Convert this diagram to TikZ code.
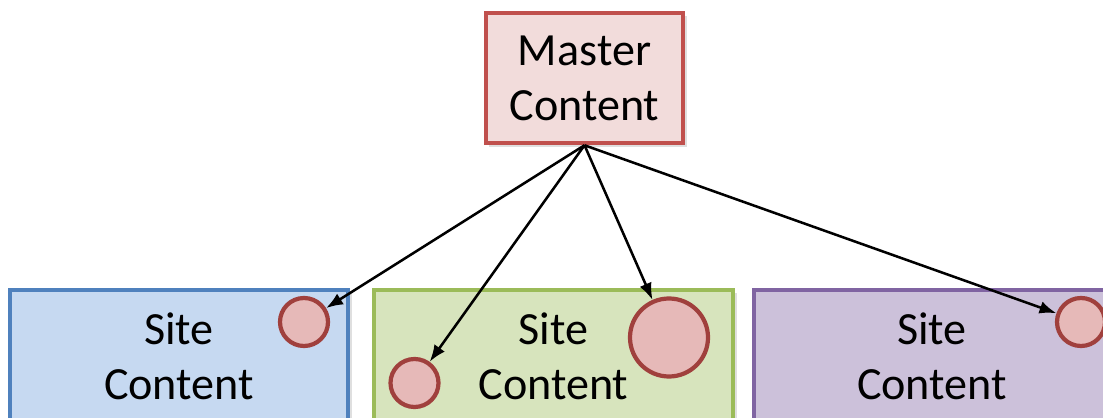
\documentclass[tikz,border=0pt]{standalone}
\usepackage{fontspec}
\setmainfont{Carlito}
\usetikzlibrary{arrows.meta,shadows}

\definecolor{masterline}{HTML}{C0504D}
\definecolor{masterfill}{HTML}{F2DCDB}
\definecolor{blueline}{HTML}{4F81BD}
\definecolor{bluefill}{HTML}{C6D9F1}
\definecolor{greenline}{HTML}{9BBB59}
\definecolor{greenfill}{HTML}{D7E4BD}
\definecolor{purpleline}{HTML}{8064A2}
\definecolor{purplefill}{HTML}{CCC1DA}
\definecolor{dotline}{HTML}{A0403D}
\definecolor{dotfill}{HTML}{E6B9B8}

\tikzset{
  content/.style={rectangle, line width=3.2pt, align=center,
    font=\fontsize{32.8}{39}\selectfont,
    drop shadow={opacity=0.25, shadow xshift=2.5pt, shadow yshift=-2.5pt}},
  site/.style={content, minimum height=3.3cm},
  dot/.style={circle, draw=dotline, fill=dotfill, line width=3pt, inner sep=0pt},
  link/.style={-{Latex[length=12pt,width=9pt]}, line width=1.8pt}
}

\begin{document}
\begin{tikzpicture}[x=0.025cm, y=-0.025cm]

    \clip (0,0) rectangle (1103,418);

    % Define nodes

    \node[content, draw=masterline, fill=masterfill,
          minimum width=4.925cm, minimum height=3.25cm]   (master) at (584.5,78) {Master\\Content}; %

    \node[site, draw=blueline, fill=bluefill, minimum width=8.45cm]     (site_a) at (179,356) {Site\\Content}; %
    \node[site, draw=greenline, fill=greenfill, minimum width=8.975cm]  (site_b) at (553.5,356) {Site\\Content}; %
    \node[site, draw=purpleline, fill=purplefill, minimum width=8.9cm]  (site_c) at (932,356) {Site\\Content}; %

    % shared items
    \node[dot, minimum size=1.2cm]   (item_a)  at (304,322) {}; %
    \node[dot, minimum size=1.2cm]   (item_b1) at (414.5,383) {}; %
    \node[dot, minimum size=1.95cm]  (item_b2) at (669,337.5) {}; %
    \node[dot, minimum size=1.2cm]   (item_c)  at (1081,322) {}; %

    % Connect the nodes
    \foreach \item in {item_a, item_b1, item_b2, item_c}
      \draw[link] (master.south) -- (\item);

  \end{tikzpicture}
\end{document}
